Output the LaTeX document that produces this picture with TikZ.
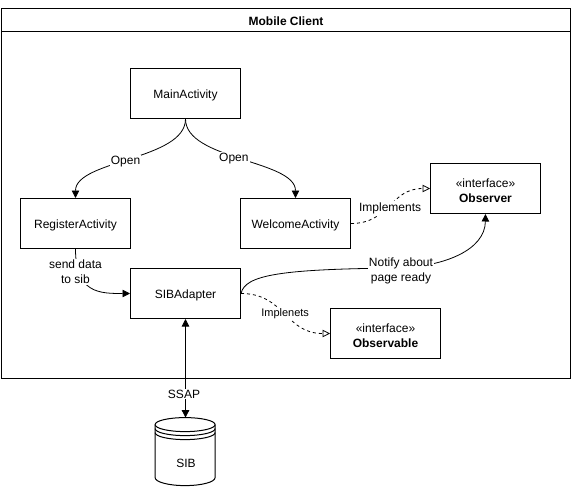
\documentclass[tikz,border=0pt]{standalone}
\usepackage{fontspec}
\setmainfont{Liberation Sans}
\usetikzlibrary{arrows.meta,positioning}
\newcommand{\lowline}{\rule{0pt}{13pt}}

\begin{document}
\begin{tikzpicture}[x=1pt,y=-1pt,->,>={Triangle[length=7.5pt,width=7.5pt]},line width=0.8pt,
  every node/.style={font=\fontsize{12}{15}\selectfont},
  box/.style={draw,line width=1pt,minimum width=110pt,minimum height=50pt,inner sep=0pt,align=center},
  tag/.style={fill=white,inner sep=1pt,align=center},
  impl/.style={dash pattern=on 3pt off 3pt,-{Triangle[open,fill=white,length=7.5pt,width=7.5pt]}},
  rim/.style={-,line width=1pt}]
\useasboundingbox (0,0) rectangle (586,500);

\draw[rim] (1,8.5) rectangle (570.5,378);
\draw[rim] (1,31.5) -- (570.5,31.5);
\node (title) at (286,21.5) {\textbf{Mobile Client}};

\node (main) [box] at (185.5,93.5) {\lowline MainActivity};
\node (register) [box] at (75.5,223.5) {\lowline RegisterActivity};
\node (welcome) [box] at (295.5,223.5) {\lowline WelcomeActivity};
\node (observer) [box] at (485.5,188.5) {\lowline «interface»\\\textbf{Observer}};
\node (adapter) [box] at (185.5,293.5) {\lowline SIBAdapter};
\node (observable) [box] at (385.5,333.5) {\lowline «interface»\\\textbf{Observable}};
\node (sib) [minimum width=60pt,minimum height=68pt,inner sep=0pt] at (185.5,452) {};
\node (siblabel) at (186,463.5) {SIB};

% datastore
\draw[rim] (sib.north west) ++(0,7) arc[start angle=180,end angle=0,x radius=30pt,y radius=7pt]
  -- ++(0,53) arc[start angle=360,end angle=180,x radius=30pt,y radius=8pt] -- cycle;
\draw[rim] (sib.north west) ++(0,7) arc[start angle=180,end angle=360,x radius=30pt,y radius=7pt];
\draw[rim] (sib.north west) ++(0,11) arc[start angle=180,end angle=360,x radius=30pt,y radius=7pt];
\draw[rim] (sib.north west) ++(0,15) arc[start angle=180,end angle=360,x radius=30pt,y radius=7pt];

\draw (main.south) .. controls (185.5,160) and (75.5,160) .. node[tag,pos=0.53] {Open} (register.north);
\draw (main.south) .. controls (185.5,160) and (295.5,160) .. node[tag,pos=0.46,yshift=-1.5pt] {Open} (welcome.north);
\draw (register.south) .. controls (75.5,293.5) and (100,293.5) .. (adapter.west);
\node (senddata) [tag] at (75.5,272) {send data\\to sib};
\draw[impl] (welcome.east) .. controls (390,223.5) and (390,188.5) .. node[tag,yshift=-2pt] {Implements} (observer.west);
\draw (adapter.east) .. controls (245,275) and (280,269) .. (400,268)
  .. controls (445,266) and (485,250) .. (observer.south);
\node (notify) [tag] at (401,271) {Notify about\\page ready};
\draw[impl] (adapter.east) .. controls (285,293.5) and (285,333.5) .. node[tag,font=\fontsize{11}{13}\selectfont] {Implenets} (observable.west);
\draw[<->] (adapter.south) -- node[tag,pos=0.76,xshift=-1.5pt] {SSAP} (sib.north);
\end{tikzpicture}
\end{document}
